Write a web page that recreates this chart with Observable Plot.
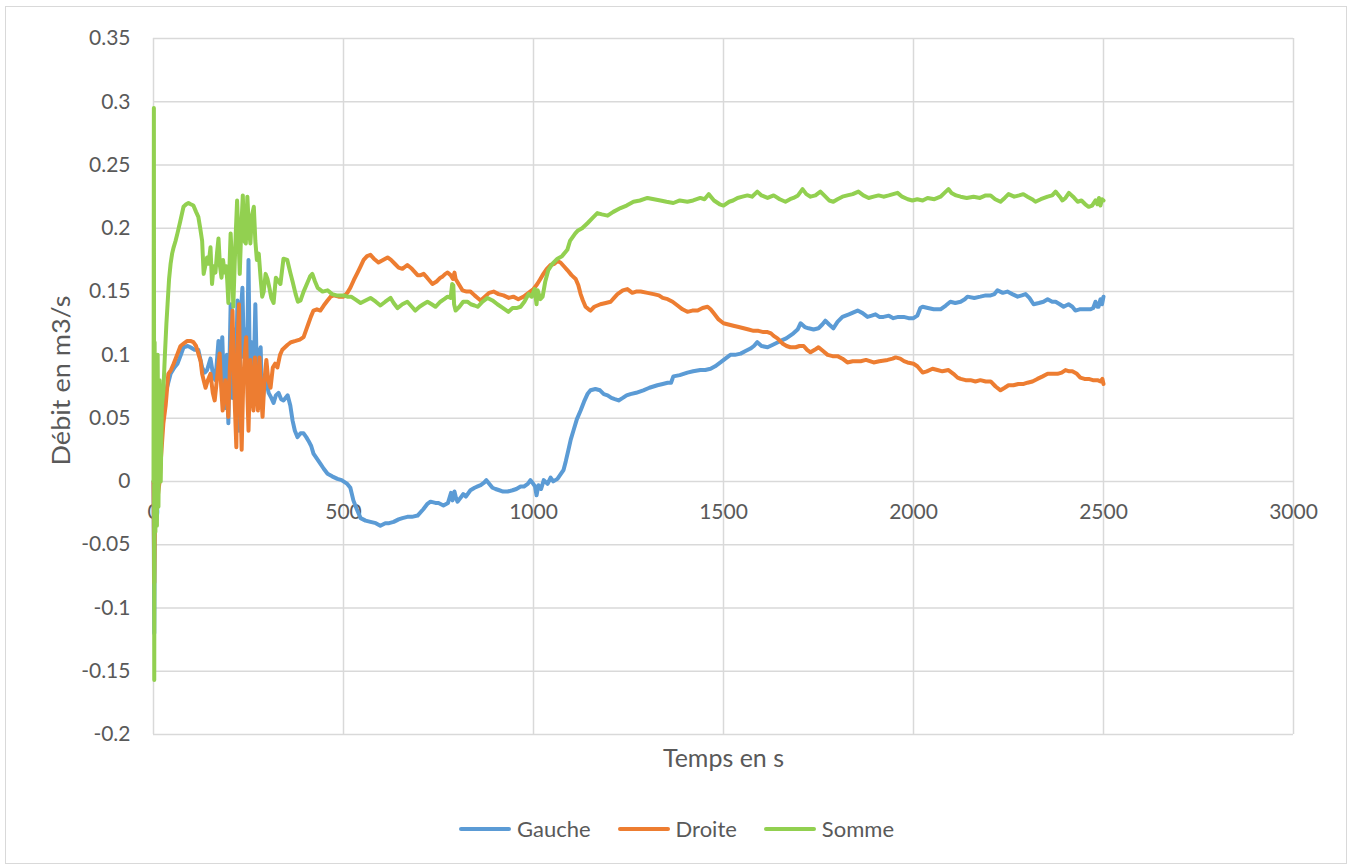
<!DOCTYPE html>
<html>
<head>
<meta charset="utf-8">
<script src="https://cdn.jsdelivr.net/npm/d3@7"></script>
<script src="https://cdn.jsdelivr.net/npm/@observablehq/plot@0.6"></script>
<style>
  html, body { margin: 0; padding: 0; background: #fff; }
  #wrap { position: relative; width: 1353px; height: 864px; overflow: hidden; font-family: Lato, sans-serif; }
  #frame { position: absolute; left: 5px; top: 6px; width: 1342px; height: 858px; border: 1.5px solid #d9d9d9; box-sizing: border-box; pointer-events: none; }
  #legend { position: absolute; top: 815px; left: 0; width: 1353px; display: flex; justify-content: center; align-items: center; gap: 27px; font-size: 22px; color: #595959; }
  #legend .item { display: flex; align-items: center; }
  #legend .sw { display: inline-block; width: 52px; height: 4px; border-radius: 2px; margin-right: 6px; }
</style>
</head>
<body>
<div id="wrap"><div id="chart"></div><div id="legend"></div><div id="frame"></div></div>
<script>
const seriesNames = ["Gauche", "Droite", "Somme"];
const seriesColors = ["#5b9bd5", "#ed7d31", "#92d050"];
const xTicks = [0, 500, 1000, 1500, 2000, 2500, 3000];
const yTicks = [0.35, 0.3, 0.25, 0.2, 0.15, 0.1, 0.05, 0, -0.05, -0.1, -0.15, -0.2];

const gaucheT = [0,2,4,8,12,18,25,32,45,55,63,72,79,90,97,108,118,128,135,141,150,158,163,171,176,181,185,189,193,197,203,208,213,216,221,225,229,234,238,242,246,250,254,258,262,268,272,277,282,286,290,296,303,310,316,322,329,336,342,353,360,366,372,379,387,395,402,408,415,421,430,439,448,458,470,484,495,510,518,526,535,545,558,571,585,597,610,620,632,645,655,668,680,695,710,720,729,742,750,763,775,783,787,792,796,800,808,815,822,834,845,853,861,870,876,884,892,900,910,920,932,945,955,966,975,985,992,997,1004,1008,1013,1020,1027,1037,1045,1052,1063,1072,1079,1085,1092,1098,1105,1114,1124,1133,1142,1150,1163,1175,1185,1195,1205,1214,1224,1235,1245,1255,1270,1289,1305,1326,1340,1353,1362,1368,1385,1405,1420,1439,1452,1466,1478,1492,1505,1518,1530,1545,1558,1571,1580,1589,1600,1616,1630,1650,1665,1684,1695,1703,1714,1724,1737,1750,1760,1768,1778,1789,1800,1813,1830,1853,1866,1879,1890,1900,1910,1921,1935,1947,1960,1974,1987,2000,2010,2018,2024,2038,2053,2071,2085,2097,2110,2124,2135,2142,2160,2176,2190,2203,2213,2221,2235,2247,2260,2274,2285,2295,2305,2316,2330,2342,2353,2365,2374,2385,2395,2408,2418,2426,2437,2447,2458,2466,2473,2479,2484,2487,2492,2496,2500];
const gaucheV = [0.0,-0.12,0.02,-0.03,0.01,0.03,0.055,0.07,0.085,0.09,0.093,0.1,0.106,0.107,0.106,0.104,0.104,0.09,0.086,0.088,0.097,0.082,0.08,0.111,0.09,0.114,0.075,0.058,0.1,0.046,0.14,0.066,0.12,0.07,0.143,0.04,0.13,0.153,0.098,0.12,0.09,0.175,0.072,0.11,0.06,0.14,0.085,0.1,0.106,0.06,0.072,0.08,0.07,0.066,0.062,0.068,0.07,0.065,0.064,0.068,0.06,0.048,0.04,0.035,0.038,0.038,0.035,0.032,0.028,0.022,0.018,0.014,0.01,0.006,0.004,0.002,0.001,-0.002,-0.005,-0.015,-0.022,-0.029,-0.031,-0.032,-0.033,-0.035,-0.033,-0.033,-0.032,-0.03,-0.029,-0.028,-0.028,-0.027,-0.022,-0.018,-0.016,-0.017,-0.017,-0.019,-0.017,-0.009,-0.015,-0.008,-0.013,-0.016,-0.013,-0.01,-0.012,-0.007,-0.005,-0.004,-0.003,-0.001,0.001,-0.002,-0.005,-0.006,-0.007,-0.008,-0.008,-0.007,-0.006,-0.004,-0.004,-0.002,0.001,-0.001,-0.004,-0.011,-0.003,-0.006,0.001,-0.002,0.003,0.0,0.002,0.006,0.009,0.016,0.025,0.033,0.04,0.049,0.056,0.063,0.069,0.072,0.073,0.072,0.069,0.068,0.066,0.065,0.064,0.066,0.068,0.069,0.07,0.072,0.074,0.076,0.077,0.078,0.078,0.083,0.084,0.086,0.087,0.088,0.088,0.089,0.091,0.094,0.097,0.1,0.1,0.101,0.103,0.105,0.107,0.11,0.107,0.106,0.108,0.111,0.113,0.117,0.12,0.125,0.122,0.121,0.12,0.121,0.124,0.127,0.124,0.121,0.126,0.13,0.132,0.135,0.133,0.13,0.131,0.132,0.13,0.13,0.131,0.129,0.13,0.13,0.129,0.129,0.131,0.137,0.138,0.137,0.136,0.136,0.139,0.142,0.141,0.142,0.144,0.146,0.145,0.146,0.147,0.147,0.148,0.151,0.149,0.15,0.148,0.146,0.147,0.148,0.145,0.14,0.141,0.142,0.144,0.142,0.142,0.14,0.138,0.14,0.138,0.135,0.136,0.136,0.136,0.136,0.137,0.142,0.138,0.138,0.144,0.14,0.146];

const droiteT = [0,2,4,8,12,16,20,26,32,39,46,53,62,71,80,89,97,105,112,118,124,128,132,137,143,150,156,161,165,170,174,178,182,186,189,193,197,201,205,208,211,214,218,221,225,229,232,236,240,244,247,250,255,259,263,267,271,275,279,283,287,292,297,302,308,314,320,326,333,339,346,353,362,374,385,395,402,408,414,421,430,439,448,458,466,474,487,500,510,518,527,537,545,553,562,571,580,592,604,616,625,635,645,655,668,680,695,703,711,720,734,745,755,761,768,774,782,788,792,795,805,813,824,834,845,853,861,872,883,895,908,921,935,947,960,974,987,1000,1010,1018,1026,1035,1045,1055,1063,1071,1080,1089,1100,1111,1118,1124,1130,1137,1145,1150,1160,1168,1176,1190,1203,1212,1221,1235,1247,1260,1270,1282,1300,1316,1330,1340,1353,1366,1379,1392,1405,1418,1432,1445,1458,1466,1474,1487,1500,1513,1526,1540,1553,1566,1579,1592,1605,1616,1625,1632,1642,1655,1666,1676,1690,1700,1711,1720,1729,1740,1750,1762,1774,1787,1800,1813,1826,1840,1861,1875,1885,1895,1910,1932,1945,1953,1965,1975,1984,2000,2010,2024,2035,2050,2063,2076,2092,2105,2116,2124,2137,2150,2163,2176,2190,2203,2216,2229,2240,2250,2263,2276,2290,2300,2313,2326,2340,2353,2366,2379,2390,2400,2410,2418,2430,2439,2450,2461,2472,2484,2492,2497,2500];
const droiteV = [0.0,-0.08,-0.02,-0.01,-0.01,0.0,0.02,0.046,0.06,0.085,0.088,0.093,0.1,0.107,0.109,0.111,0.111,0.11,0.107,0.101,0.095,0.085,0.08,0.074,0.08,0.085,0.07,0.064,0.075,0.09,0.101,0.075,0.056,0.07,0.08,0.065,0.051,0.09,0.11,0.135,0.09,0.06,0.027,0.104,0.14,0.06,0.025,0.077,0.1,0.114,0.07,0.04,0.096,0.07,0.056,0.098,0.07,0.056,0.098,0.07,0.051,0.08,0.096,0.08,0.074,0.09,0.093,0.09,0.1,0.104,0.106,0.108,0.11,0.111,0.112,0.114,0.12,0.125,0.13,0.135,0.136,0.135,0.139,0.143,0.146,0.147,0.146,0.146,0.149,0.153,0.159,0.165,0.17,0.175,0.178,0.179,0.176,0.173,0.175,0.177,0.175,0.172,0.169,0.168,0.171,0.168,0.163,0.163,0.164,0.161,0.156,0.158,0.161,0.162,0.164,0.165,0.163,0.16,0.165,0.16,0.155,0.151,0.15,0.15,0.147,0.145,0.143,0.146,0.149,0.15,0.148,0.147,0.145,0.146,0.144,0.146,0.149,0.152,0.156,0.16,0.164,0.168,0.171,0.172,0.174,0.173,0.17,0.167,0.163,0.16,0.155,0.148,0.143,0.138,0.136,0.135,0.138,0.139,0.14,0.141,0.142,0.145,0.148,0.151,0.152,0.149,0.15,0.15,0.149,0.148,0.147,0.145,0.144,0.142,0.139,0.136,0.134,0.135,0.135,0.137,0.138,0.136,0.133,0.128,0.125,0.124,0.123,0.122,0.121,0.12,0.119,0.119,0.118,0.118,0.117,0.115,0.113,0.109,0.107,0.106,0.106,0.107,0.107,0.104,0.102,0.104,0.106,0.103,0.1,0.099,0.099,0.097,0.094,0.095,0.095,0.096,0.095,0.094,0.095,0.096,0.097,0.098,0.097,0.095,0.094,0.093,0.091,0.086,0.087,0.089,0.088,0.087,0.088,0.085,0.082,0.081,0.08,0.08,0.079,0.08,0.079,0.079,0.075,0.072,0.074,0.076,0.076,0.077,0.077,0.078,0.079,0.081,0.083,0.085,0.085,0.085,0.086,0.088,0.087,0.087,0.085,0.082,0.081,0.081,0.08,0.08,0.079,0.081,0.077];

const sommeT = [0,1,2,3,5,7,9,11,13,16,19,22,26,30,34,37,41,45,49,53,58,63,70,79,86,92,98,105,112,118,123,128,132,136,141,145,150,154,158,163,167,171,175,179,183,187,191,194,197,200,203,207,210,214,217,220,224,227,231,235,239,243,247,251,255,259,264,268,272,277,282,286,290,295,300,305,310,316,322,329,334,342,352,360,366,374,380,387,395,405,412,418,425,432,445,458,470,482,492,500,510,520,530,545,558,571,585,597,610,624,632,642,655,668,680,689,700,710,721,732,742,755,765,774,782,786,789,791,795,805,815,826,835,845,853,866,879,892,905,920,934,945,955,966,976,987,995,1003,1008,1011,1018,1024,1031,1039,1050,1063,1075,1089,1096,1103,1110,1116,1128,1142,1155,1168,1180,1195,1210,1229,1245,1263,1280,1300,1317,1334,1350,1368,1385,1405,1420,1439,1450,1461,1475,1490,1500,1515,1525,1537,1550,1563,1575,1589,1600,1616,1632,1648,1663,1675,1684,1696,1708,1718,1729,1742,1755,1765,1778,1789,1800,1813,1826,1840,1855,1868,1882,1895,1908,1921,1935,1958,1970,1985,1997,2010,2024,2037,2055,2071,2085,2092,2100,2112,2124,2140,2158,2175,2190,2203,2215,2229,2240,2250,2265,2278,2289,2300,2312,2321,2335,2353,2365,2374,2385,2392,2400,2409,2420,2432,2442,2452,2461,2470,2479,2484,2488,2492,2496,2500];
const sommeV = [0.0,0.295,-0.157,0.11,-0.04,0.08,-0.035,0.1,-0.02,0.08,0.0,0.06,0.072,0.1,0.125,0.14,0.16,0.172,0.18,0.185,0.19,0.196,0.205,0.217,0.219,0.22,0.219,0.218,0.213,0.209,0.2,0.19,0.164,0.17,0.177,0.172,0.185,0.156,0.17,0.165,0.18,0.192,0.17,0.161,0.175,0.165,0.17,0.159,0.141,0.17,0.196,0.17,0.138,0.175,0.2,0.222,0.19,0.164,0.2,0.226,0.19,0.188,0.225,0.2,0.188,0.21,0.217,0.19,0.175,0.18,0.16,0.146,0.15,0.164,0.16,0.153,0.145,0.141,0.161,0.158,0.156,0.176,0.175,0.165,0.158,0.148,0.142,0.143,0.15,0.157,0.162,0.164,0.158,0.153,0.15,0.151,0.148,0.147,0.147,0.147,0.146,0.146,0.144,0.141,0.143,0.145,0.142,0.139,0.142,0.145,0.141,0.137,0.14,0.142,0.138,0.135,0.138,0.14,0.142,0.14,0.138,0.142,0.144,0.146,0.145,0.156,0.155,0.14,0.135,0.138,0.142,0.142,0.14,0.139,0.138,0.142,0.145,0.143,0.14,0.137,0.134,0.137,0.137,0.138,0.142,0.148,0.146,0.152,0.14,0.151,0.144,0.146,0.158,0.167,0.172,0.176,0.178,0.183,0.19,0.193,0.196,0.198,0.2,0.204,0.208,0.212,0.211,0.21,0.213,0.216,0.218,0.221,0.222,0.224,0.223,0.222,0.221,0.22,0.222,0.221,0.222,0.224,0.223,0.227,0.222,0.219,0.218,0.221,0.222,0.224,0.225,0.226,0.225,0.229,0.226,0.224,0.226,0.223,0.221,0.223,0.224,0.226,0.231,0.227,0.225,0.226,0.229,0.226,0.222,0.221,0.223,0.225,0.226,0.227,0.229,0.226,0.224,0.225,0.226,0.225,0.226,0.228,0.225,0.223,0.222,0.223,0.222,0.224,0.223,0.225,0.229,0.231,0.228,0.226,0.225,0.224,0.225,0.224,0.226,0.226,0.223,0.221,0.224,0.227,0.225,0.226,0.227,0.225,0.223,0.221,0.223,0.225,0.226,0.229,0.225,0.222,0.224,0.228,0.225,0.221,0.222,0.219,0.217,0.218,0.222,0.219,0.224,0.218,0.223,0.222];

const data = [];
gaucheT.forEach((t, i) => data.push({t, v: gaucheV[i], s: "Gauche"}));
droiteT.forEach((t, i) => data.push({t, v: droiteV[i], s: "Droite"}));
sommeT.forEach((t, i) => data.push({t, v: sommeV[i], s: "Somme"}));

const gridStyle = {stroke: "#d9d9d9", strokeOpacity: 1, strokeWidth: 1.5};

const chart = Plot.plot({
  width: 1353,
  height: 800,
  marginLeft: 153,
  marginRight: 60,
  marginTop: 38,
  marginBottom: 66,
  x: {domain: [0, 3000], axis: null},
  y: {domain: [-0.2, 0.35]},
  color: {domain: seriesNames, range: seriesColors},
  style: {fontFamily: "Lato, sans-serif", fontSize: "21px", color: "#595959", background: "white"},
  marks: [
    Plot.gridX(xTicks, gridStyle),
    Plot.gridY(yTicks, gridStyle),
    Plot.axisY(yTicks, {tickSize: 0, tickPadding: 23, tickFormat: d => String(d), fontSize: 21, fill: "#595959", label: null}),
    Plot.text(xTicks, {x: d => d, y: () => 0, text: d => String(d), dy: 31, fontSize: 21, fill: "#595959", textAnchor: "middle", lineAnchor: "middle"}),
    Plot.line(data, {x: "t", y: "v", stroke: "s", z: "s", strokeWidth: 4, strokeLinejoin: "round", strokeLinecap: "round"}),
    Plot.text(["Temps en s"], {frameAnchor: "bottom", dy: 24, lineAnchor: "middle", textAnchor: "middle", fontSize: 25, fill: "#595959"}),
    Plot.text(["Débit en m3/s"], {frameAnchor: "left", dx: -92, dy: -6, rotate: -90, textAnchor: "middle", lineAnchor: "middle", fontSize: 25, fill: "#595959", className: "ytitle"})
  ]
});
document.getElementById("chart").appendChild(chart);
// stretch the rotated y title along its length like the reference
d3.select(chart).selectAll(".ytitle text").attr("textLength", 170).attr("lengthAdjust", "spacingAndGlyphs");

const legend = document.getElementById("legend");
seriesNames.forEach((n, i) => {
  const item = document.createElement("div");
  item.className = "item";
  const sw = document.createElement("span");
  sw.className = "sw";
  sw.style.background = seriesColors[i];
  const lab = document.createElement("span");
  lab.textContent = n;
  item.appendChild(sw);
  item.appendChild(lab);
  legend.appendChild(item);
});
</script>
</body>
</html>
